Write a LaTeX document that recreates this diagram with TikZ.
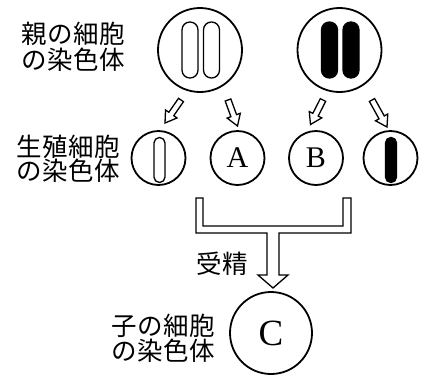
\documentclass[tikz,border=0pt]{standalone}
\usepackage{fontspec}
\newfontfamily\jpfont{Noto Sans CJK JP}[LetterSpace=3]
\newfontfamily\letterfont{Liberation Serif}
\usetikzlibrary{calc}

% hollow block arrow from tail coordinate #1 to tip coordinate #2
\newcommand\hollowarrow[2]{%
  \coordinate (hb) at ($(#2)!11pt!(#1)$);
  \draw[hollow] ($(#1)!3pt!90:(#2)$) -- ($(hb)!3pt!90:(#2)$)
    -- ($(hb)!7pt!90:(#2)$) -- (#2) -- ($(hb)!7pt!-90:(#2)$)
    -- ($(hb)!3pt!-90:(#2)$) -- ($(#1)!3pt!-90:(#2)$) -- cycle;
}

\begin{document}
\begin{tikzpicture}[x=1pt,y=-1pt,
  cell/.style={circle, draw, line width=1.8pt, inner sep=0pt},
  rodbig/.style={rectangle, draw, line width=1.3pt, inner sep=0pt,
    minimum width=16pt, minimum height=56pt, rounded corners=7.9pt},
  rodsmall/.style={rectangle, draw, line width=1.3pt, inner sep=0pt,
    minimum width=11pt, minimum height=45pt, rounded corners=5.4pt},
  caption/.style={font=\jpfont\fontsize{25.5}{26}\selectfont, anchor=west, inner sep=0pt},
  letter/.style={font=\letterfont\fontsize{30}{30}\selectfont},
  hollow/.style={draw, fill=white, line width=1.3pt, line join=miter}]
\useasboundingbox (0,0) rectangle (421,376);

% parent cells
\node[cell, minimum size=84pt] (P1) at (200,50) {};
\node[cell, minimum size=84pt] (P2) at (339.5,50) {};
\node[rodbig] (r1) at (190,50) {};
\node[rodbig] (r2) at (211.5,50) {};
\node[rodbig, fill=black] (r3) at (329.5,50) {};
\node[rodbig, fill=black] (r4) at (351,50) {};

% gametes
\node[cell, minimum size=54pt] (G1) at (158.5,158) {};
\node[cell, minimum size=54pt, letter] (GA) at (237.5,158) {A};
\node[cell, minimum size=54pt, letter] (GB) at (316,158) {B};
\node[cell, minimum size=54pt] (G4) at (390.5,158) {};
\node[rodsmall] (r5) at (159.5,160) {};
\node[rodsmall, fill=black] (r6) at (391,160) {};

% offspring
\node[cell, minimum size=82pt, font=\letterfont\fontsize{37}{37}\selectfont] (GC) at (271,333) {C};

% captions
\node[caption] (t1) at (21,34) {親の細胞};
\node[caption] (t2) at (21,60) {の染色体};
\node[caption] (t3) at (16,147) {生殖細胞};
\node[caption] (t4) at (16,171) {の染色体};
\node[caption] (t5) at (196,264) {受精};
\node[caption] (t6) at (111,326) {子の細胞};
\node[caption] (t7) at (111,351) {の染色体};

% small arrows from parents to gametes
\coordinate (a1t) at (181,100); \coordinate (a1h) at (165,123);
\coordinate (a2t) at (228,100); \coordinate (a2h) at (237.5,126);
\coordinate (a3t) at (323,100); \coordinate (a3h) at (310.5,124.5);
\coordinate (a4t) at (372,100); \coordinate (a4h) at (387,127);
\hollowarrow{a1t}{a1h}
\hollowarrow{a2t}{a2h}
\hollowarrow{a3t}{a3h}
\hollowarrow{a4t}{a4h}

% fertilisation bracket
\draw[hollow] (196,198) -- (196,233) -- (267,233) -- (267,275) -- (258,275)
  -- (273,288) -- (288,275) -- (279,275) -- (279,233) -- (351,233)
  -- (351,198) -- (343,198) -- (343,226) -- (203,226) -- (203,198) -- cycle;
\end{tikzpicture}
\end{document}
